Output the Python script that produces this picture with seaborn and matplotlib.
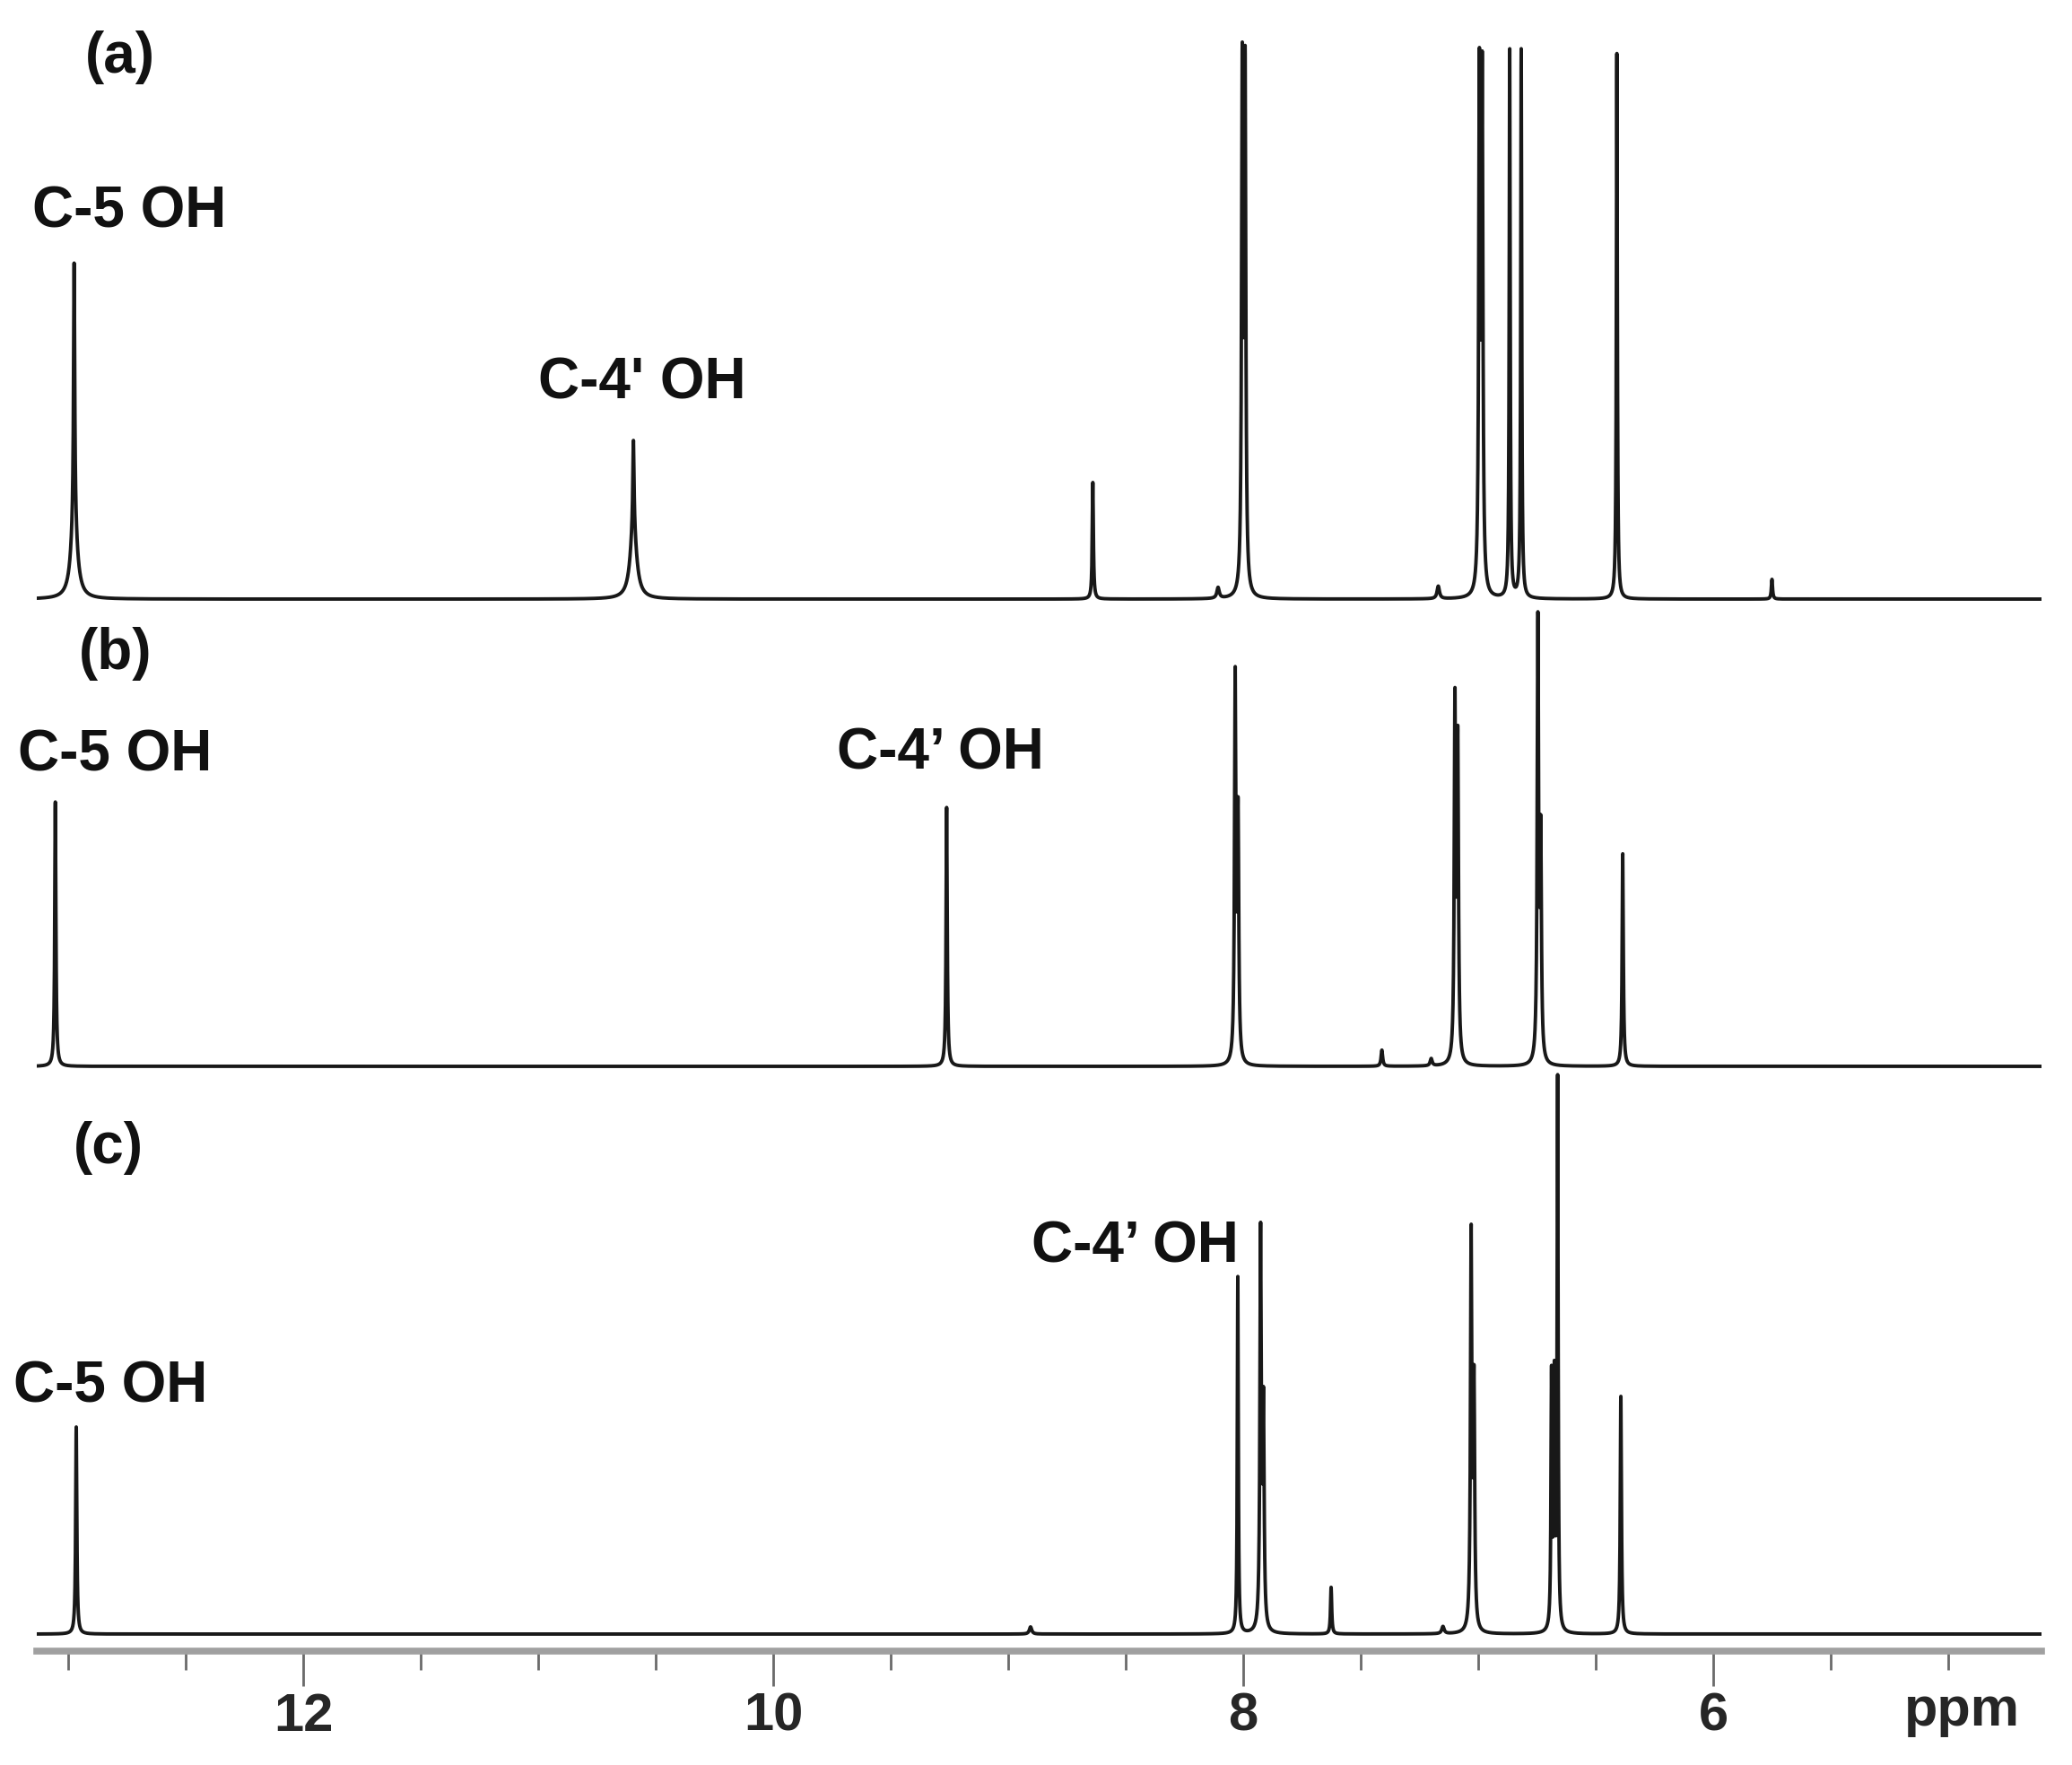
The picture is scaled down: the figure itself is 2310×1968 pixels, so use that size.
import numpy as np
import pandas as pd
import seaborn as sns
import matplotlib.pyplot as plt
from matplotlib.ticker import MultipleLocator

# Peaks: shift (ppm), height (px above the trace baseline), half width (ppm)
a_shift = [12.975, 12.975, 10.595, 10.595, 8.640, 8.107, 8.004, 7.992, 7.170,
           6.995, 6.983, 6.866, 6.817, 6.410, 5.750]
a_height = [290, 85, 97, 80, 130, 12, 576, 572, 14, 570, 566, 612, 612, 609, 22]
a_hwhm = [0.003, 0.016, 0.003, 0.016, 0.0028, 0.006, 0.0035, 0.0035, 0.006,
          0.0035, 0.0035, 0.0025, 0.0025, 0.0025, 0.003]

b_shift = [13.055, 9.262, 8.034, 8.022, 7.410, 7.200, 7.099, 7.087, 6.746, 6.734, 6.385]
b_height = [295, 289, 425, 267, 18, 8, 395, 349, 488, 242, 237]
b_hwhm = [0.003, 0.003, 0.0035, 0.0035, 0.004, 0.005, 0.0035, 0.0035, 0.0035, 0.0035, 0.003]

c_shift = [12.966, 8.905, 8.023, 7.926, 7.914, 7.626, 7.150, 7.030, 7.018,
           6.688, 6.676, 6.662, 6.393]
c_height = [231, 8, 398, 440, 241, 52, 8, 436, 266, 280, 272, 610, 265]
c_hwhm = [0.003, 0.006, 0.0025, 0.0035, 0.0035, 0.003, 0.006, 0.0035, 0.0035,
          0.0028, 0.0028, 0.0025, 0.003]

trace_names = ['(a)', '(b)', '(c)']
x_ticks = [12, 10, 8, 6]

# build the traces (sum of Lorentzian lines)
ppm = np.linspace(13.134, 4.603, 40000)


def spectrum(shift, height, hwhm):
    y = np.zeros_like(ppm)
    for s, h, g in zip(shift, height, hwhm):
        y += h * g**2 / ((ppm - s) ** 2 + g**2)
    return y


offsets = [1173, 652, 19]
frames = []
for name, sh, he, hw, off in zip(trace_names,
                                 [a_shift, b_shift, c_shift],
                                 [a_height, b_height, c_height],
                                 [a_hwhm, b_hwhm, c_hwhm],
                                 offsets):
    frames.append(pd.DataFrame({'ppm': ppm, 'y': spectrum(sh, he, hw) + off, 'trace': name}))
df = pd.concat(frames, ignore_index=True)

sns.set_theme(style='white')
plt.rcParams['font.family'] = ['Liberation Sans', 'DejaVu Sans']
plt.rcParams['font.weight'] = 'bold'

fig = plt.figure(figsize=(23.1, 19.68), dpi=100)
ax = fig.add_axes([41 / 2310, 127 / 1968, (2276 - 41) / 2310, 1841 / 1968])

sns.lineplot(data=df, x='ppm', y='y', hue='trace', palette=['#181818'] * 3,
             estimator=None, linewidth=2.8, legend=False, ax=ax)

ax.set_xlim(13.134, 4.603)
ax.set_ylim(0, 1841)
ax.set_yticks([])
ax.set_xlabel('')
ax.set_ylabel('')
for side in ['top', 'left', 'right']:
    ax.spines[side].set_visible(False)
ax.spines['bottom'].set_color('#a0a0a0')
ax.spines['bottom'].set_linewidth(5.5)

ax.set_xticks(x_ticks)
ax.set_xticklabels([str(t) for t in x_ticks])
ax.xaxis.set_minor_locator(MultipleLocator(0.5))
ax.tick_params(axis='x', which='major', bottom=True, length=28, width=2,
               color='#6a6a6a', pad=5, labelsize=43)
ax.tick_params(axis='x', which='minor', bottom=True, length=15, width=2, color='#6a6a6a')
for lab in ax.get_xticklabels():
    lab.set_fontweight('bold')

ax.text(4.94, -0.021, 'ppm', transform=ax.get_xaxis_transform(),
        ha='center', va='top', fontsize=44, fontweight='bold')

# panel letters and peak assignments
lab_kw = dict(ha='center', va='center', fontsize=46, fontweight='bold', color='#111111')
ax.text(12.78, 1777, '(a)', **lab_kw)
ax.text(12.74, 1605, 'C-5 OH', **lab_kw)
ax.text(10.56, 1414, "C-4' OH", **lab_kw)
ax.text(12.80, 1112, '(b)', **lab_kw)
ax.text(12.80, 999, 'C-5 OH', **lab_kw)
ax.text(9.29, 1000, 'C-4\u2019 OH', **lab_kw)
ax.text(12.83, 561, '(c)', **lab_kw)
ax.text(8.46, 451, 'C-4\u2019 OH', **lab_kw)
ax.text(12.82, 294, 'C-5 OH', **lab_kw)

fig.savefig('out.png', dpi=100, facecolor='white')
